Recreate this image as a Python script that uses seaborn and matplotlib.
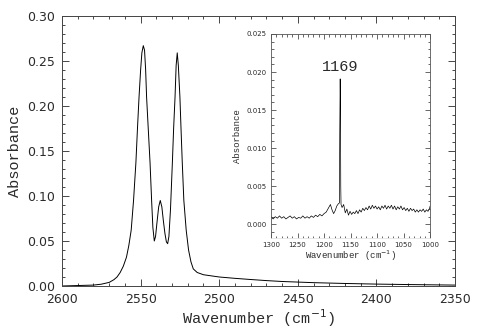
import numpy as np
import pandas as pd
import matplotlib
matplotlib.use('Agg')
import matplotlib.pyplot as plt
import matplotlib.ticker as ticker
import seaborn as sns

# main spectrum
main_wn = [2600, 2590, 2580, 2575, 2570, 2567, 2565, 2563, 2561, 2559, 2557.5, 2556,
           2554.5, 2553, 2552, 2551, 2550, 2549.2, 2548.3, 2547.5, 2546.8, 2546.2,
           2545, 2544, 2543, 2542.2, 2541.3, 2540.5, 2539.5, 2538.5, 2537.5, 2536.5,
           2535.5, 2534.5, 2533.6, 2532.8, 2532, 2531, 2529.8, 2529, 2528.1, 2527.4,
           2526.7, 2526, 2525, 2524.3, 2523.5, 2522.5, 2521, 2519.5, 2518, 2516.5,
           2514, 2510, 2500, 2490, 2480, 2470, 2460, 2440, 2420, 2400, 2380, 2360, 2350]
main_abs = [0.000, 0.0005, 0.001, 0.002, 0.004, 0.007, 0.010, 0.015, 0.022, 0.032, 0.045, 0.062,
            0.095, 0.137, 0.175, 0.210, 0.240, 0.259, 0.267, 0.262, 0.240, 0.210,
            0.170, 0.137, 0.095, 0.065, 0.050, 0.055, 0.072, 0.088, 0.095, 0.088,
            0.072, 0.058, 0.049, 0.047, 0.055, 0.085, 0.137, 0.175, 0.210, 0.245,
            0.259, 0.245, 0.210, 0.175, 0.137, 0.095, 0.062, 0.040, 0.027, 0.019,
            0.015, 0.0125, 0.010, 0.0085, 0.0072, 0.006, 0.005, 0.0037, 0.0028, 0.0021, 0.0016, 0.0012, 0.001]

# inset spectrum
ins_wn = [1300, 1296, 1292, 1288, 1284, 1280, 1276, 1272, 1268, 1264, 1260, 1256, 1252, 1248,
          1244, 1240, 1236, 1232, 1228, 1224, 1220, 1216, 1212, 1208, 1204, 1200, 1196, 1192,
          1188, 1185, 1182, 1179, 1176, 1173, 1171, 1170.4, 1169.6, 1169, 1168.5, 1168, 1166,
          1163, 1160, 1157, 1154, 1151, 1148, 1145, 1142, 1139, 1136, 1133, 1130, 1127, 1124,
          1121, 1118, 1115, 1112, 1109, 1106, 1103, 1100, 1097, 1094, 1091, 1088, 1085, 1082,
          1079, 1076, 1073, 1070, 1067, 1064, 1061, 1058, 1055, 1052, 1049, 1046, 1043, 1040,
          1037, 1034, 1031, 1028, 1025, 1022, 1019, 1016, 1013, 1010, 1007, 1004, 1001, 1000]
ins_abs = [0.0010, 0.0007, 0.0010, 0.0008, 0.0011, 0.0008, 0.0010, 0.0007, 0.0009, 0.0011, 0.0008,
           0.0010, 0.0007, 0.0009, 0.0008, 0.0011, 0.0008, 0.0010, 0.0008, 0.0011, 0.0009, 0.0012,
           0.0010, 0.0013, 0.0011, 0.0014, 0.0016, 0.0021, 0.0026, 0.0019, 0.0014, 0.0018, 0.0024,
           0.0027, 0.0028, 0.0120, 0.0191, 0.0150, 0.0050, 0.0026, 0.0022, 0.0026, 0.0015, 0.0020,
           0.0012, 0.0017, 0.0013, 0.0016, 0.0014, 0.0018, 0.0014, 0.0019, 0.0016, 0.0021, 0.0018,
           0.0022, 0.0019, 0.0024, 0.0020, 0.0025, 0.0021, 0.0024, 0.0020, 0.0023, 0.0019, 0.0024,
           0.0021, 0.0025, 0.0020, 0.0024, 0.0021, 0.0025, 0.0020, 0.0024, 0.0019, 0.0023, 0.0020,
           0.0024, 0.0019, 0.0022, 0.0018, 0.0021, 0.0017, 0.0021, 0.0018, 0.0020, 0.0016, 0.0019,
           0.0016, 0.0019, 0.0017, 0.0020, 0.0016, 0.0019, 0.0017, 0.0021, 0.0024]

peak_label = '1169'
peak_pos = (1169, 0.0207)

df_main = pd.DataFrame({'wn': main_wn, 'abs': main_abs})
df_ins = pd.DataFrame({'wn': ins_wn, 'abs': ins_abs})

sns.set_style('ticks')
plt.rcParams['font.family'] = ['DejaVu Sans']
mono = 'Liberation Mono'
ink = '#2a2a2a'

fig = plt.figure(figsize=(4.91, 3.35), dpi=100)
ax = fig.add_axes([0.1263, 0.1463, 0.8004, 0.806])

sns.lineplot(data=df_main, x='wn', y='abs', color='black', linewidth=0.7, ax=ax, sort=False)
ax.set_xlim(2600, 2350)
ax.set_ylim(0, 0.30)
ax.xaxis.set_major_locator(ticker.MultipleLocator(50))
ax.xaxis.set_minor_locator(ticker.MultipleLocator(10))
ax.yaxis.set_major_locator(ticker.MultipleLocator(0.05))
ax.yaxis.set_minor_locator(ticker.MultipleLocator(0.01))
ax.yaxis.set_major_formatter(ticker.FormatStrFormatter('%.2f'))
ax.tick_params(which='both', direction='in', top=True, right=True, colors=ink, width=0.6)
ax.tick_params(which='major', length=5, labelsize=9, pad=5)
ax.tick_params(which='minor', length=2.5)
ax.set_xlabel('Wavenumber (cm$^{-1}$)', fontsize=11, family=mono, color=ink, labelpad=1)
ax.set_ylabel('Absorbance', fontsize=11, family=mono, color=ink, labelpad=4)
for s in ax.spines.values():
    s.set_linewidth(0.7)
    s.set_color('#444444')

# inset
axi = fig.add_axes([0.552, 0.2896, 0.324, 0.609])
sns.lineplot(data=df_ins, x='wn', y='abs', color='black', linewidth=0.5, ax=axi, sort=False)
axi.set_xlim(1300, 1000)
axi.set_ylim(-0.0018, 0.025)
axi.xaxis.set_major_locator(ticker.MultipleLocator(50))
axi.xaxis.set_minor_locator(ticker.MultipleLocator(10))
axi.yaxis.set_major_locator(ticker.MultipleLocator(0.005))
axi.yaxis.set_minor_locator(ticker.MultipleLocator(0.001))
axi.yaxis.set_major_formatter(ticker.FormatStrFormatter('%.3f'))
axi.tick_params(which='both', direction='in', top=True, right=True, colors=ink, width=0.5)
axi.tick_params(which='major', length=3.5, labelsize=5, pad=3)
axi.tick_params(which='minor', length=1.8)
axi.set_xlabel('Wavenumber (cm$^{-1}$)', fontsize=6.5, family=mono, color=ink, labelpad=0)
axi.set_ylabel('Absorbance', fontsize=6.5, family=mono, color=ink, labelpad=3)
for s in axi.spines.values():
    s.set_linewidth(0.6)
    s.set_color('#555555')
axi.spines['bottom'].set_color('#e4e4e4')
axi.text(peak_pos[0], peak_pos[1], peak_label, ha='center', va='center',
         fontsize=11, family=mono, color=ink)

fig.savefig('out.png', dpi=100)
